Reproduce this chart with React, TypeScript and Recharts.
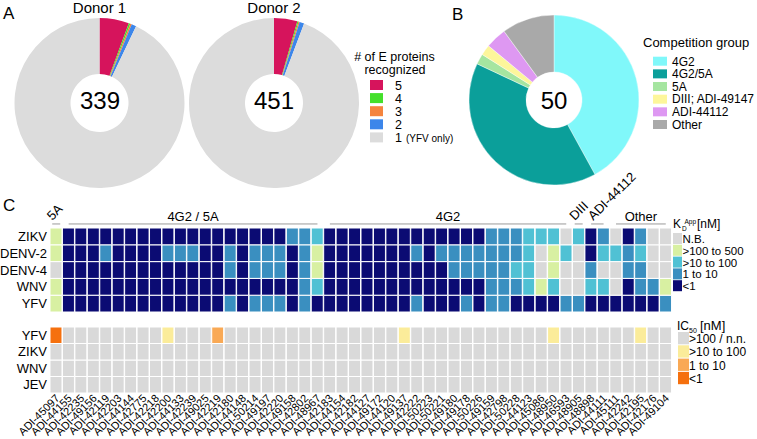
import React from 'react';
import { PieChart, Pie, Cell, Label, BarChart, Bar, XAxis, YAxis, ReferenceLine } from 'recharts';

const FONT = '"Liberation Sans", Arial, Helvetica, sans-serif';

// ---------- Panel A ----------
const eProteinCategories = ['5', '4', '3', '2', '1'];
const eProteinColors = ['#d6145c', '#43e02b', '#f5843e', '#3c86ea', '#dcdcdc'];
const donor1Counts = [19, 1, 1, 3, 315];
const donor2Counts = [20, 1, 1, 4, 425];
const donorTotals = [339, 451];

// ---------- Panel B ----------
const competitionGroups = ['4G2', '4G2/5A', '5A', 'DIII; ADI-49147', 'ADI-44112', 'Other'];
const competitionColors = ['#80f8fa', '#0b9f9a', '#a5e5a0', '#fdf69b', '#de98f2', '#a9a9a9'];
const competitionCounts = [21, 20, 1, 1, 2, 5];
const competitionTotal = 50;

// ---------- Panel C ----------
const antibodies = [
  'ADI-45097', 'ADI-44155', 'ADI-42235', 'ADI-49156', 'ADI-42119', 'ADI-42203', 'ADI-44144', 'ADI-42775',
  'ADI-42218', 'ADI-42200', 'ADI-44133', 'ADI-42239', 'ADI-49025', 'ADI-42219', 'ADI-42180', 'ADI-44148',
  'ADI-50214', 'ADI-49197', 'ADI-42220', 'ADI-49158', 'ADI-42802', 'ADI-48967', 'ADI-42183', 'ADI-44154',
  'ADI-42182', 'ADI-44127', 'ADI-49172', 'ADI-44120', 'ADI-49137', 'ADI-42222', 'ADI-50223', 'ADI-50221',
  'ADI-49180', 'ADI-49178', 'ADI-50226', 'ADI-49159', 'ADI-42798', 'ADI-50228', 'ADI-44123', 'ADI-45086',
  'ADI-48950', 'ADI-46593', 'ADI-48905', 'ADI-48898', 'ADI-44111', 'ADI-45111', 'ADI-42242', 'ADI-42195',
  'ADI-42176', 'ADI-49104',
];

// KD levels: 0 N.B., 1 >100 to 500, 2 >10 to 100, 3 1 to 10, 4 <1
const kdLevels = ['N.B.', '>100 to 500', '>10 to 100', ' 1 to 10', '<1'];
const kdColors = ['#d9d9d9', '#d8f0a2', '#50c1d4', '#3a8fc0', '#0b0b73'];
const kdZIKV = [1, 4, 4, 4, 4, 4, 4, 4, 4, 4, 4, 4, 4, 4, 4, 4, 4, 4, 4, 3, 3, 2, 4, 4, 4, 4, 4, 4, 4, 4, 4, 4, 4, 4, 4, 3, 3, 3, 2, 2, 2, 0, 2, 4, 3, 0, 4, 3, 0, 0];
const kdDENV2 = [1, 4, 4, 4, 3, 4, 4, 4, 4, 3, 3, 3, 4, 4, 3, 4, 3, 3, 3, 4, 3, 1, 4, 4, 4, 4, 4, 4, 4, 3, 4, 3, 3, 3, 3, 3, 3, 3, 2, 0, 1, 2, 0, 4, 2, 2, 3, 2, 0, 0];
const kdDENV4 = [0, 4, 4, 4, 4, 4, 4, 4, 4, 4, 4, 4, 4, 4, 3, 4, 3, 3, 3, 4, 3, 1, 4, 4, 4, 4, 4, 4, 4, 4, 4, 4, 3, 3, 3, 3, 3, 2, 2, 0, 1, 0, 0, 3, 0, 0, 3, 3, 0, 0];
const kdWNV = [1, 4, 4, 4, 4, 4, 4, 4, 4, 4, 4, 4, 4, 4, 4, 4, 4, 4, 4, 4, 3, 2, 4, 4, 4, 4, 4, 4, 4, 4, 4, 4, 4, 4, 4, 3, 3, 3, 2, 1, 2, 0, 0, 2, 2, 0, 4, 3, 3, 1];
const kdYFV = [1, 4, 4, 4, 4, 4, 4, 4, 4, 4, 4, 4, 4, 4, 3, 4, 3, 3, 3, 4, 3, 4, 4, 4, 4, 4, 4, 4, 4, 3, 4, 4, 4, 3, 4, 3, 3, 4, 4, 4, 4, 3, 3, 4, 4, 4, 4, 4, 4, 3];
const kdRows = [
  { name: 'ZIKV', levels: kdZIKV },
  { name: 'DENV-2', levels: kdDENV2 },
  { name: 'DENV-4', levels: kdDENV4 },
  { name: 'WNV', levels: kdWNV },
  { name: 'YFV', levels: kdYFV },
];

// IC50 levels: 0 >100 / n.n., 1 >10 to 100, 2 1 to 10, 3 <1
const ic50Levels = ['>100 / n.n.', '>10 to 100', ' 1 to 10', '<1'];
const ic50Colors = ['#d9d9d9', '#fbec9a', '#f9a955', '#f5700e'];
const ic50YFV = [3, 0, 0, 0, 0, 0, 0, 0, 0, 1, 0, 0, 0, 2, 0, 0, 0, 0, 0, 0, 0, 0, 0, 0, 0, 0, 0, 0, 1, 0, 0, 0, 0, 0, 0, 0, 0, 0, 0, 0, 1, 0, 0, 0, 0, 0, 0, 1, 0, 0];
const ic50ZIKV = [0, 0, 0, 0, 0, 0, 0, 0, 0, 0, 0, 0, 0, 0, 0, 0, 0, 0, 0, 0, 0, 0, 0, 0, 0, 0, 0, 0, 0, 0, 0, 0, 0, 0, 0, 0, 0, 0, 0, 0, 0, 0, 0, 0, 0, 0, 0, 0, 0, 0];
const ic50WNV = [0, 0, 0, 0, 0, 0, 0, 0, 0, 0, 0, 0, 0, 0, 0, 0, 0, 0, 0, 0, 0, 0, 0, 0, 0, 0, 0, 0, 0, 0, 0, 0, 0, 0, 0, 0, 0, 0, 0, 0, 0, 0, 0, 0, 0, 0, 0, 0, 0, 0];
const ic50JEV = [0, 0, 0, 0, 0, 0, 0, 0, 0, 0, 0, 0, 0, 0, 0, 0, 0, 0, 0, 0, 0, 0, 0, 0, 0, 0, 0, 0, 0, 0, 0, 0, 0, 0, 0, 0, 0, 0, 0, 0, 0, 0, 0, 0, 0, 0, 0, 0, 0, 0];
const ic50Rows = [
  { name: 'YFV', levels: ic50YFV },
  { name: 'ZIKV', levels: ic50ZIKV },
  { name: 'WNV', levels: ic50WNV },
  { name: 'JEV', levels: ic50JEV },
];

const groupBrackets = [
  { label: '5A', from: 'ADI-45097', to: 'ADI-45097', rotated: true },
  { label: '4G2 / 5A', from: 'ADI-44155', to: 'ADI-48967', rotated: false },
  { label: '4G2', from: 'ADI-42183', to: 'ADI-46593', rotated: false },
  { label: 'DIII', from: 'ADI-48905', to: 'ADI-48905', rotated: true },
  { label: 'ADI-44112', from: 'ADI-48898', to: 'ADI-44111', rotated: true },
  { label: 'Other', from: 'ADI-45111', to: 'ADI-49104', rotated: false },
];

const buildData = (rows: { name: string }[]) =>
  antibodies.map((name) => {
    const o: any = { name };
    rows.forEach((r) => { o[r.name] = 1; });
    return o;
  });

const kdData = buildData(kdRows);
const ic50Data = buildData(ic50Rows);

const AntibodyTick = (props: any) => {
  const { x, y, payload } = props;
  const ax = x + 4;
  const ay = y + 6;
  return (
    <text x={ax} y={ay} transform={`rotate(-45 ${ax} ${ay})`} textAnchor="end" fontSize={11} fill="#000" fontFamily={FONT}>
      {payload.value}
    </text>
  );
};

const BRACKET_Y = 5.24;

const Donut = ({ counts, total, colors, names, cx, cy }: any) => {
  const data = names.map((n: string, i: number) => ({ name: n, value: counts[i] }));
  return (
    <Pie data={data} dataKey="value" nameKey="name" cx={cx} cy={cy} innerRadius={29} outerRadius={85}
      startAngle={90} endAngle={-270} stroke="none" isAnimationActive={false}>
      {data.map((d: any, i: number) => <Cell key={d.name} fill={colors[i]} />)}
      <Label value={String(total)} position="center" fontSize={24} fill="#000" fontFamily={FONT} />
    </Pie>
  );
};

export default function App() {
  const kdRowsBottomUp = [...kdRows].reverse();
  const ic50RowsBottomUp = [...ic50Rows].reverse();
  return (
    <div style={{ position: 'absolute', left: 0, top: 0, width: 757, height: 439, background: '#fff', fontFamily: FONT, overflow: 'hidden' }}>
      <div style={{ position: 'absolute', left: 0, top: 0 }}>
        <PieChart width={200} height={200} margin={{ top: 0, right: 0, bottom: 0, left: 0 }}>
          {Donut({ counts: donor1Counts, total: donorTotals[0], colors: eProteinColors, names: eProteinCategories, cx: 99.5, cy: 103 })}
        </PieChart>
      </div>
      <div style={{ position: 'absolute', left: 174, top: 0 }}>
        <PieChart width={200} height={200} margin={{ top: 0, right: 0, bottom: 0, left: 0 }}>
          {Donut({ counts: donor2Counts, total: donorTotals[1], colors: eProteinColors, names: eProteinCategories, cx: 100, cy: 103 })}
        </PieChart>
      </div>
      <div style={{ position: 'absolute', left: 454, top: 0 }}>
        <PieChart width={200} height={200} margin={{ top: 0, right: 0, bottom: 0, left: 0 }}>
          <Pie data={competitionGroups.map((n, i) => ({ name: n, value: competitionCounts[i] }))} dataKey="value" nameKey="name"
            cx={100} cy={100} innerRadius={28} outerRadius={85} startAngle={90} endAngle={-270}
            stroke="#ffffff" strokeWidth={0.4} isAnimationActive={false}>
            {competitionGroups.map((n, i) => <Cell key={n} fill={competitionColors[i]} />)}
            <Label value={String(competitionTotal)} position="center" fontSize={24} fill="#000" fontFamily={FONT} />
          </Pie>
        </PieChart>
      </div>

      {/* KD heatmap */}
      <div style={{ position: 'absolute', left: 0, top: 150 }}>
        <BarChart width={757} height={170} data={kdData} margin={{ top: 78, right: 85, bottom: 8, left: 0 }}
          barCategoryGap={0} barGap={0}>
          <XAxis dataKey="name" hide height={0} />
          <YAxis type="number" domain={[0, 5]} ticks={[0.5, 1.5, 2.5, 3.5, 4.5]} width={50} interval={0}
            tickFormatter={(v: number) => kdRowsBottomUp[Math.floor(v)].name}
            axisLine={false} tickLine={false} tickSize={0} tickMargin={3}
            tick={{ fontSize: 13, fill: '#000', fontFamily: FONT }} />
          {kdRowsBottomUp.map((r) => (
            <Bar key={r.name} dataKey={r.name} stackId="kd" isAnimationActive={false} stroke="#ffffff" strokeWidth={1}>
              {r.levels.map((lv, i) => <Cell key={i} fill={kdColors[lv]} />)}
            </Bar>
          ))}
          {groupBrackets.map((g) => (
            <ReferenceLine key={g.label} ifOverflow="visible"
              segment={[{ x: g.from, y: BRACKET_Y }, { x: g.to, y: BRACKET_Y }]}
              shape={(p: any) => {
                const ext = g.from === g.to ? 4 : 0;
                return <line x1={p.x1 - ext} y1={p.y1} x2={p.x2 + ext} y2={p.y2} stroke="#9a9a9a" strokeWidth={1} />;
              }}
              label={(lp: any) => {
                const vb = lp.viewBox || {};
                const mid = vb.x + (vb.width || 0) / 2;
                if (g.rotated) {
                  const sx = mid - 4;
                  const sy = vb.y - 3;
                  return (
                    <text x={sx} y={sy} transform={`rotate(-45 ${sx} ${sy})`} fontSize={13} fill="#000" fontFamily={FONT}>
                      {g.label}
                    </text>
                  );
                }
                return (
                  <text x={mid} y={vb.y - 3} textAnchor="middle" fontSize={13} fill="#000" fontFamily={FONT}>
                    {g.label}
                  </text>
                );
              }}
            />
          ))}
        </BarChart>
      </div>

      {/* IC50 heatmap */}
      <div style={{ position: 'absolute', left: 0, top: 300 }}>
        <BarChart width={757} height={139} data={ic50Data} margin={{ top: 27, right: 85, bottom: 0, left: 0 }}
          barCategoryGap={0} barGap={0}>
          <XAxis dataKey="name" interval={0} height={46} axisLine={false} tickLine={false} tickSize={0} tickMargin={0}
            tick={<AntibodyTick />} />
          <YAxis type="number" domain={[0, 4]} ticks={[0.5, 1.5, 2.5, 3.5]} width={50} interval={0}
            tickFormatter={(v: number) => ic50RowsBottomUp[Math.floor(v)].name}
            axisLine={false} tickLine={false} tickSize={0} tickMargin={3}
            tick={{ fontSize: 13, fill: '#000', fontFamily: FONT }} />
          {ic50RowsBottomUp.map((r) => (
            <Bar key={r.name} dataKey={r.name} stackId="ic" isAnimationActive={false} stroke="#ffffff" strokeWidth={1}>
              {r.levels.map((lv, i) => <Cell key={i} fill={ic50Colors[lv]} />)}
            </Bar>
          ))}
        </BarChart>
      </div>

      {/* Text overlay: panel letters, titles, legends */}
      <svg width={757} height={439} style={{ position: 'absolute', left: 0, top: 0, pointerEvents: 'none' }} fontFamily={FONT}>
        <text x={3} y={19} fontSize={17} fill="#000">A</text>
        <text x={452} y={20} fontSize={17} fill="#000">B</text>
        <text x={3} y={211} fontSize={17} fill="#000">C</text>
        <text x={99.5} y={13} fontSize={15} textAnchor="middle" fill="#000">Donor 1</text>
        <text x={274} y={13} fontSize={15} textAnchor="middle" fill="#000">Donor 2</text>

        {/* Legend A */}
        <text x={394.5} y={61} fontSize={12.5} textAnchor="middle" fill="#000"># of E proteins</text>
        <text x={395} y={74} fontSize={12.5} textAnchor="middle" fill="#000">recognized</text>
        {eProteinCategories.map((c, i) => (
          <g key={c}>
            <rect x={370} y={80 + i * 13.1} width={13} height={10} fill={eProteinColors[i]} />
            <text x={395} y={89.5 + i * 13.1} fontSize={12.5} fill="#000">{c}</text>
          </g>
        ))}
        <text x={406} y={142} fontSize={10} fill="#000">(YFV only)</text>

        {/* Legend B */}
        <text x={643} y={46.5} fontSize={13} fill="#000">Competition group</text>
        {competitionGroups.map((g, i) => (
          <g key={g}>
            <rect x={653} y={56.7 + i * 12.66} width={14} height={9} fill={competitionColors[i]} />
            <text x={672} y={65.5 + i * 12.66} fontSize={12} fill="#000">{g}</text>
          </g>
        ))}

        {/* KD legend */}
        <text x={673} y={228.3} fontSize={12} fill="#000">K</text>
        <text x={682} y={231} fontSize={6.5} fill="#000">D</text>
        <text x={684.5} y={224} fontSize={6.5} fill="#000">App</text>
        <text x={697} y={227.5} fontSize={12} fill="#000">[nM]</text>
        {kdLevels.map((l, i) => (
          <g key={l}>
            <rect x={673} y={233 + i * 11.8} width={9} height={11} fill={kdColors[i]} />
            <text x={682.5} y={243 + i * 11.8} fontSize={11.5} fill="#000">{l}</text>
          </g>
        ))}

        {/* IC50 legend */}
        <text x={677} y={330} fontSize={12} fill="#000">IC</text>
        <text x={689} y={332.5} fontSize={7} fill="#000">50</text>
        <text x={700} y={329.5} fontSize={13} fill="#000">[nM]</text>
        {ic50Levels.map((l, i) => (
          <g key={l}>
            <rect x={678} y={332 + i * 13.3} width={11} height={12.3} fill={ic50Colors[i]} />
            <text x={689} y={343 + i * 13.3} fontSize={12} fill="#000">{l}</text>
          </g>
        ))}
      </svg>
    </div>
  );
}
